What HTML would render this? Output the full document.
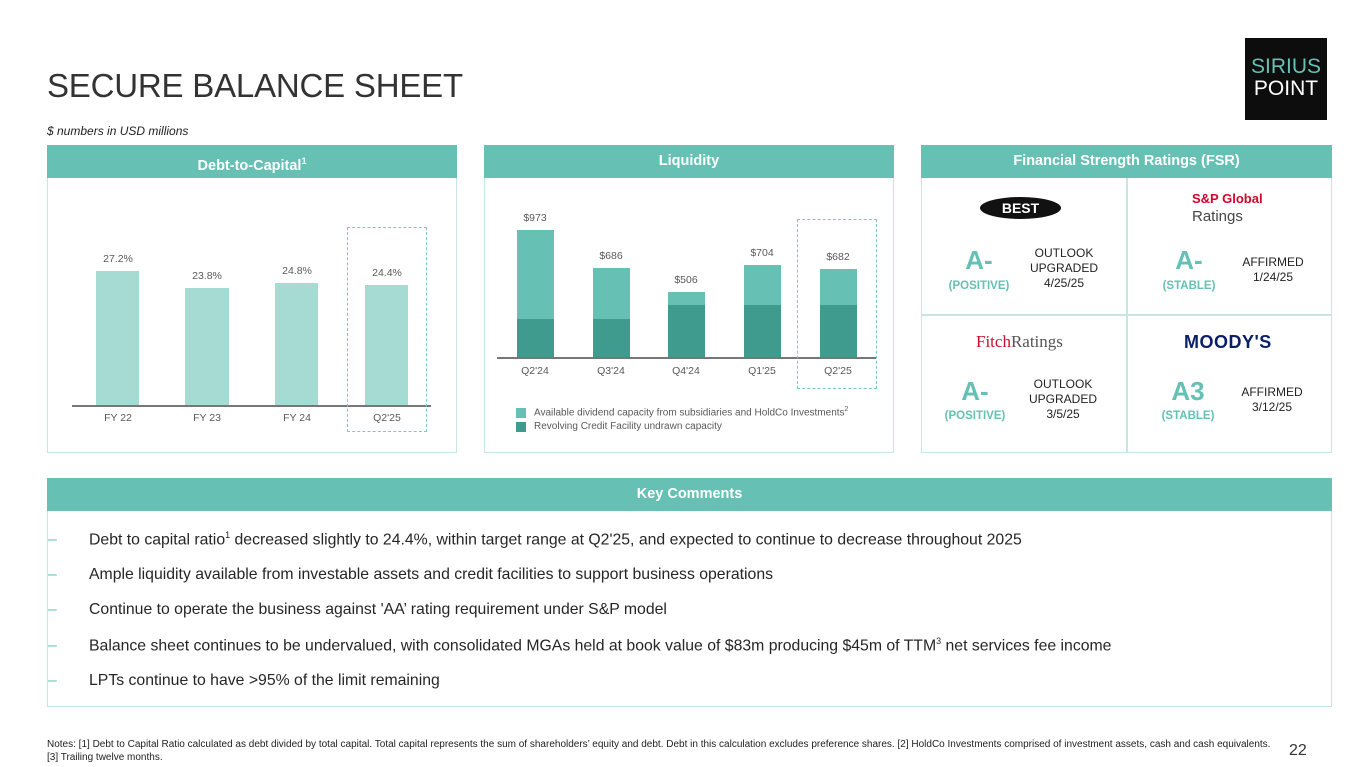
<!DOCTYPE html>
<html><head><meta charset="utf-8"><style>
*{margin:0;padding:0;box-sizing:border-box}
body{width:1365px;height:767px;background:#fff;position:relative;overflow:hidden;font-family:"Liberation Sans",sans-serif;color:#262626}
.a{position:absolute}
.hdr{position:absolute;background:#66c0b4;color:#fff;font-weight:bold;font-size:14.5px;text-align:center;line-height:33px;height:33px}
.box{position:absolute;border:1.5px solid #c7e6e1}
.lbl{position:absolute;font-size:10.5px;color:#595959;text-align:center;width:60px}
.bl{background:#a5dbd3;position:absolute}
.lt{background:#66c0b4;position:absolute}
.dk{background:#3e9b8e;position:absolute}
.dash{position:absolute;border:1.5px dashed #7ccabd}
.big{position:absolute;color:#66c0b4;font-weight:bold;font-size:26px;text-align:center;width:90px}
.st{position:absolute;color:#66c0b4;font-weight:bold;font-size:11.5px;text-align:center;width:90px}
.rt{position:absolute;font-size:12px;text-align:center;width:90px;line-height:15px;color:#222}
.bul{position:absolute;left:48px;font-size:15.8px;color:#262626;white-space:nowrap}
.bul span.d{color:#66c0b4;display:inline-block;width:41px}
</style></head><body>
<div class="a" style="left:47px;top:67px;font-size:33px;color:#333;letter-spacing:-0.2px">SECURE BALANCE SHEET</div>
<div class="a" style="left:47px;top:124px;font-size:12px;font-style:italic;color:#222">$ numbers in USD millions</div>
<div class="a" style="left:1245px;top:38px;width:82px;height:82px;background:#0d0d0d;text-align:center;font-size:21px;line-height:22px;padding-top:18px">
<div style="color:#66c0b4">SIRIUS</div><div style="color:#fff">POINT</div></div>

<!-- Debt to capital -->
<div class="box" style="left:47px;top:145px;width:410px;height:308px"></div>
<div class="hdr" style="left:47px;top:145px;width:410px">Debt-to-Capital<sup style="font-size:9px">1</sup></div>
<div class="bl" style="left:96px;top:271px;width:43px;height:135px"></div>
<div class="bl" style="left:185px;top:288px;width:44px;height:118px"></div>
<div class="bl" style="left:275px;top:283px;width:43px;height:123px"></div>
<div class="bl" style="left:365px;top:285px;width:43px;height:121px"></div>
<div class="a" style="left:72px;top:405px;width:359px;height:1.5px;background:#777"></div>
<div class="dash" style="left:347px;top:227px;width:80px;height:205px"></div>
<div class="lbl" style="left:88px;top:253px">27.2%</div>
<div class="lbl" style="left:177px;top:270px">23.8%</div>
<div class="lbl" style="left:267px;top:265px">24.8%</div>
<div class="lbl" style="left:357px;top:267px">24.4%</div>
<div class="lbl" style="left:88px;top:412px">FY 22</div>
<div class="lbl" style="left:177px;top:412px">FY 23</div>
<div class="lbl" style="left:267px;top:412px">FY 24</div>
<div class="lbl" style="left:357px;top:412px">Q2'25</div>

<!-- Liquidity -->
<div class="box" style="left:484px;top:145px;width:410px;height:308px"></div>
<div class="hdr" style="left:484px;top:145px;width:410px">Liquidity</div>
<div class="lt" style="left:517px;top:230px;width:37px;height:89px"></div><div class="dk" style="left:517px;top:319px;width:37px;height:38px"></div>
<div class="lt" style="left:593px;top:268px;width:37px;height:51px"></div><div class="dk" style="left:593px;top:319px;width:37px;height:38px"></div>
<div class="lt" style="left:668px;top:292px;width:37px;height:13px"></div><div class="dk" style="left:668px;top:305px;width:37px;height:52px"></div>
<div class="lt" style="left:744px;top:265px;width:37px;height:40px"></div><div class="dk" style="left:744px;top:305px;width:37px;height:52px"></div>
<div class="lt" style="left:820px;top:269px;width:37px;height:36px"></div><div class="dk" style="left:820px;top:305px;width:37px;height:52px"></div>
<div class="a" style="left:497px;top:357px;width:379px;height:1.5px;background:#777"></div>
<div class="dash" style="left:797px;top:219px;width:80px;height:170px"></div>
<div class="lbl" style="left:505px;top:212px">$973</div>
<div class="lbl" style="left:581px;top:250px">$686</div>
<div class="lbl" style="left:656px;top:274px">$506</div>
<div class="lbl" style="left:732px;top:247px">$704</div>
<div class="lbl" style="left:808px;top:251px">$682</div>
<div class="lbl" style="left:505px;top:365px">Q2'24</div>
<div class="lbl" style="left:581px;top:365px">Q3'24</div>
<div class="lbl" style="left:656px;top:365px">Q4'24</div>
<div class="lbl" style="left:732px;top:365px">Q1'25</div>
<div class="lbl" style="left:808px;top:365px">Q2'25</div>
<div class="lt" style="left:516px;top:408px;width:10px;height:10px"></div>
<div class="dk" style="left:516px;top:422px;width:10px;height:10px"></div>
<div class="a" style="left:534px;top:406px;font-size:10px;color:#595959;white-space:nowrap">Available dividend capacity from subsidiaries and HoldCo Investments<sup style="font-size:7px">2</sup></div>
<div class="a" style="left:534px;top:421px;font-size:10px;color:#595959;white-space:nowrap">Revolving Credit Facility undrawn capacity</div>

<!-- FSR -->
<div class="box" style="left:921px;top:145px;width:411px;height:308px"></div>
<div class="hdr" style="left:921px;top:145px;width:411px">Financial Strength Ratings (FSR)</div>
<div class="a" style="left:1126px;top:178px;width:1.5px;height:274px;background:#c7e6e1"></div>
<div class="a" style="left:921px;top:314px;width:411px;height:1.5px;background:#c7e6e1"></div>
<div class="a" style="left:980px;top:197px;width:81px;height:22px;border-radius:50%;background:#111;color:#fff;font-weight:bold;font-size:14px;text-align:center;line-height:22px">BEST</div>
<div class="a" style="left:1192px;top:191px;font-size:13px;font-weight:bold;color:#d6002a">S&amp;P Global</div>
<div class="a" style="left:1192px;top:208px;font-size:15px;color:#444">Ratings</div>
<div class="a" style="left:976px;top:332px;font-family:'Liberation Serif',serif;font-size:17px;color:#555"><span style="color:#c8102e">Fitch</span>Ratings</div>
<div class="a" style="left:1184px;top:332px;font-weight:900;font-size:18px;color:#0b1f66;letter-spacing:0.5px">MOODY'S</div>
<div class="big" style="left:934px;top:245px">A-</div>
<div class="st" style="left:934px;top:280px">(POSITIVE)</div>
<div class="rt" style="left:1019px;top:246px">OUTLOOK<br>UPGRADED<br>4/25/25</div>
<div class="big" style="left:1144px;top:245px">A-</div>
<div class="st" style="left:1144px;top:280px">(STABLE)</div>
<div class="rt" style="left:1228px;top:255px">AFFIRMED<br>1/24/25</div>
<div class="big" style="left:930px;top:376px">A-</div>
<div class="st" style="left:930px;top:410px">(POSITIVE)</div>
<div class="rt" style="left:1018px;top:377px">OUTLOOK<br>UPGRADED<br>3/5/25</div>
<div class="big" style="left:1143px;top:376px">A3</div>
<div class="st" style="left:1143px;top:410px">(STABLE)</div>
<div class="rt" style="left:1227px;top:385px">AFFIRMED<br>3/12/25</div>

<!-- Key comments -->
<div class="box" style="left:47px;top:478px;width:1285px;height:229px"></div>
<div class="hdr" style="left:47px;top:478px;width:1285px">Key Comments</div>
<div class="bul" style="top:530px"><span class="d">–</span>Debt to capital ratio<sup style="font-size:9px">1</sup> decreased slightly to 24.4%, within target range at Q2'25, and expected to continue to decrease throughout 2025</div>
<div class="bul" style="top:566px"><span class="d">–</span>Ample liquidity available from investable assets and credit facilities to support business operations</div>
<div class="bul" style="top:601px"><span class="d">–</span>Continue to operate the business against 'AA’ rating requirement under S&amp;P model</div>
<div class="bul" style="top:636px"><span class="d">–</span>Balance sheet continues to be undervalued, with consolidated MGAs held at book value of $83m producing $45m of TTM<sup style="font-size:9px">3</sup> net services fee income</div>
<div class="bul" style="top:672px"><span class="d">–</span>LPTs continue to have &gt;95% of the limit remaining</div>

<div class="a" style="left:47px;top:738px;width:1235px;font-size:10px;line-height:13px;color:#222">Notes: [1] Debt to Capital Ratio calculated as debt divided by total capital. Total capital represents the sum of shareholders’ equity and debt. Debt in this calculation excludes preference shares. [2] HoldCo Investments comprised of investment assets, cash and cash equivalents. [3] Trailing twelve months.</div>
<div class="a" style="left:1289px;top:742px;font-size:16px;color:#333">22</div>
</body></html>
